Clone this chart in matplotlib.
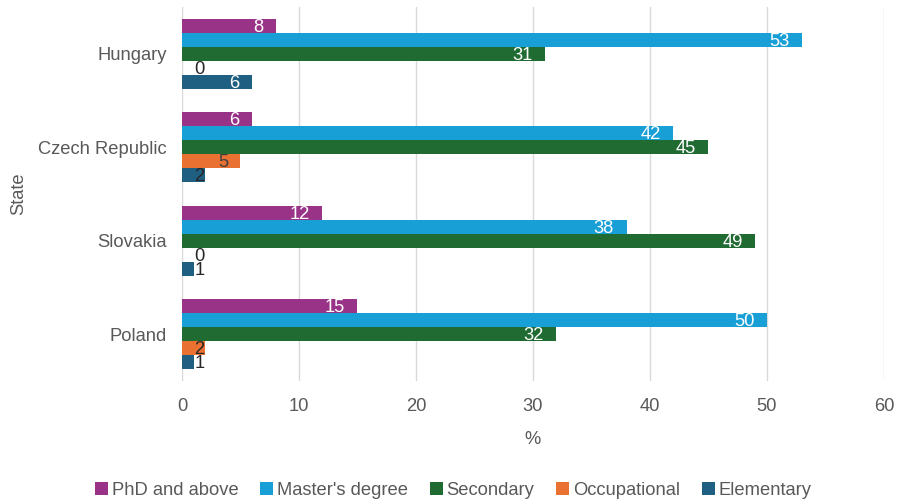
import numpy as np
import matplotlib.pyplot as plt

plt.rcParams['font.family'] = ['Liberation Sans', 'DejaVu Sans']

states = ["Poland", "Slovakia", "Czech Republic", "Hungary"]
series = ["PhD and above", "Master's degree", "Secondary", "Occupational", "Elementary"]
phd = [15, 12, 6, 8]
master = [50, 38, 42, 53]
secondary = [32, 49, 45, 31]
occupational = [2, 0, 5, 0]
elementary = [1, 1, 2, 6]
colors = ["#993388", "#189fd6", "#1f6b32", "#e97132", "#1f6082"]
label_colors = ["white", "white", "white", "#404040", "white"]

values = [phd, master, secondary, occupational, elementary]
text_color = "#595959"
fs = 13.2

fig = plt.figure(figsize=(9.01, 5.01), dpi=100)
ax = fig.add_axes([0.202, 0.2395, 0.779, 0.7465])

y = np.arange(len(states))
h = 0.15
for i, (name, vals) in enumerate(zip(series, values)):
    pos = y + (2 - i) * h
    ax.barh(pos, vals, height=h, color=colors[i], label=name, zorder=3)
    for p, v in zip(pos, vals):
        if v >= 3:
            # value label inside the end of the bar
            ax.annotate(str(v), (v, p), xytext=(-9, -1), textcoords="offset points",
                        ha="right", va="center", fontsize=fs,
                        color=label_colors[i], zorder=4)
        else:
            # too short: label sits just past the axis
            ax.annotate(str(v), (0, p), xytext=(9, -1), textcoords="offset points",
                        ha="left", va="center", fontsize=fs,
                        color="#262626", zorder=4)

ax.set_xlim(0, 60)
ax.set_ylim(-0.5, 3.5)
ax.set_xticks(range(0, 61, 10))
ax.set_yticks(y)
ax.set_yticklabels(states)
ax.grid(axis="x", color="#d9d9d9", linewidth=1, zorder=0)
for s in ax.spines.values():
    s.set_visible(False)
ax.tick_params(length=0, labelsize=fs, colors=text_color)
ax.tick_params(axis="x", pad=12)
ax.tick_params(axis="y", pad=11)
ax.set_xlabel("%", fontsize=fs, color=text_color, labelpad=12)
ax.set_ylabel("State", fontsize=fs, color=text_color, labelpad=8)

fig.legend(loc="lower center", bbox_to_anchor=(0.503, -0.028), ncol=5, frameon=False,
           fontsize=fs, handlelength=0.7, handleheight=0.7, handletextpad=0.2,
           columnspacing=1.2, labelcolor=text_color)

fig.savefig("out.png", dpi=100)
